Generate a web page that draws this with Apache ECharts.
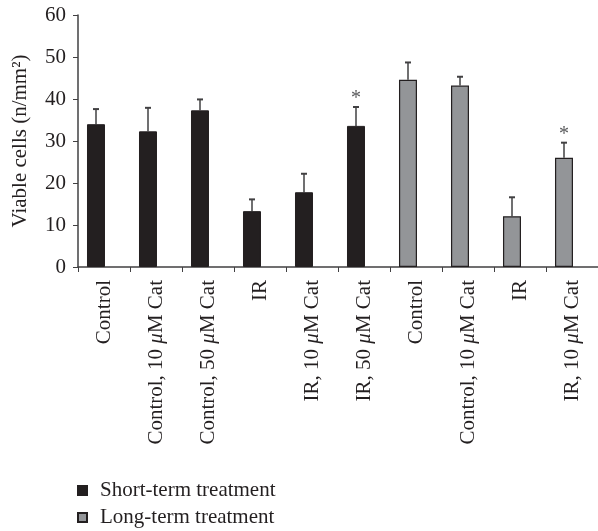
<!DOCTYPE html>
<html>
<head>
<meta charset="utf-8">
<script src="https://cdn.jsdelivr.net/npm/echarts@6/dist/echarts.min.js"></script>
<style>html,body{margin:0;padding:0;background:#fff}#c{width:598px;height:531px}</style>
</head>
<body>
<div id="c"></div>
<script>
var categories = ['Control', 'Control, 10 \u03bcM Cat', 'Control, 50 \u03bcM Cat', 'IR', 'IR, 10 \u03bcM Cat', 'IR, 50 \u03bcM Cat', 'Control', 'Control, 10 \u03bcM Cat', 'IR', 'IR, 10 \u03bcM Cat'];
var shortTerm = [34.0, 32.3, 37.3, 13.3, 17.8, 33.6, null, null, null, null];
var longTerm = [null, null, null, null, null, null, 44.6, 43.2, 12.1, 26.0];
var errorTop = [37.6, 37.9, 39.9, 16.1, 22.2, 38.1, 48.7, 45.3, 16.6, 29.6];
var significance = ['', '', '', '', '', '*', '', '', '', '*'];
var yTicks = [0, 10, 20, 30, 40, 50, 60];

var FONT = '"Liberation Serif", "DejaVu Serif", serif';
var AXIS = '#414042';
var TEXT = '#231f20';
var BAR_SHIFT = -8;

var chart = echarts.init(document.getElementById('c'), null, {renderer: 'canvas'});

var errData = categories.map(function (c, i) {
  var base = shortTerm[i] != null ? shortTerm[i] : longTerm[i];
  return [i, base, errorTop[i], significance[i]];
});

function richLabel(v) {
  var parts = v.split('\u03bc');
  if (parts.length === 1) return '{n|' + v + '}';
  return '{n|' + parts[0] + '}{i|\u03bc}{n|' + parts[1] + '}';
}

chart.setOption({
  animation: false,
  backgroundColor: '#fff',
  textStyle: {fontFamily: FONT},
  grid: {left: 78, top: 15, width: 524, bottom: 264, containLabel: false},
  legend: {
    data: ['Short-term treatment', 'Long-term treatment'],
    orient: 'vertical',
    left: 77,
    top: 480,
    padding: 0,
    icon: 'rect',
    itemWidth: 9,
    itemHeight: 9,
    itemGap: 6,
    textStyle: {fontFamily: FONT, fontSize: 21, lineHeight: 21, color: TEXT, padding: [0, 0, 0, 8]}
  },
  xAxis: {
    type: 'category',
    data: categories,
    boundaryGap: true,
    axisLine: {lineStyle: {color: AXIS, width: 1.5}},
    axisTick: {show: true, length: 5, lineStyle: {color: AXIS, width: 1}, alignWithLabel: false},
    axisLabel: {
      rotate: 90, interval: 0, margin: 13, color: TEXT,
      formatter: richLabel,
      rich: {
        n: {fontFamily: FONT, fontSize: 21, color: TEXT},
        i: {fontFamily: FONT, fontSize: 21, fontStyle: 'italic', color: TEXT}
      }
    },
    splitLine: {show: false}
  },
  yAxis: {
    type: 'value',
    min: yTicks[0],
    max: yTicks[yTicks.length - 1],
    interval: 10,
    name: 'Viable cells (n/mm\u00b2)',
    nameLocation: 'middle',
    nameGap: 47,
    nameRotate: 90,
    nameTextStyle: {fontFamily: FONT, fontSize: 21, color: TEXT},
    axisLine: {show: true, lineStyle: {color: AXIS, width: 1.5}},
    axisTick: {show: true, length: 5, lineStyle: {color: AXIS, width: 1}},
    axisLabel: {margin: 12, fontFamily: FONT, fontSize: 21, color: TEXT},
    splitLine: {show: false}
  },
  series: [
    {
      name: 'Short-term treatment',
      type: 'bar',
      stack: 'main',
      barWidth: 18,
      barGap: '-11%',
      data: shortTerm,
      itemStyle: {color: '#231f20', borderColor: '#231f20', borderWidth: 1}
    },
    {
      name: 'Long-term treatment',
      type: 'bar',
      stack: 'main',
      barWidth: 18,
      data: longTerm,
      itemStyle: {color: '#939598', borderColor: '#231f20', borderWidth: 1.2}
    },
    {
      name: 'spacer',
      type: 'bar',
      barWidth: 18,
      data: categories.map(function () { return null; }),
      silent: true
    },
    {
      name: 'errors',
      type: 'custom',
      silent: true,
      z: 1,
      data: errData,
      renderItem: function (params, api) {
        var i = api.value(0);
        var lo = api.coord([i, api.value(1)]);
        var hi = api.coord([i, api.value(2)]);
        var x = lo[0] + BAR_SHIFT;
        var half = 3;
        var children = [
          {type: 'line', shape: {x1: x, y1: lo[1], x2: x, y2: hi[1]}, style: {stroke: AXIS, lineWidth: 1.5}},
          {type: 'line', shape: {x1: x - half, y1: hi[1], x2: x + half, y2: hi[1]}, style: {stroke: AXIS, lineWidth: 2}}
        ];
        var sig = errData[params.dataIndex][3];
        if (sig) {
          children.push({type: 'text', style: {text: sig, x: x, y: hi[1] - 8, align: 'center', verticalAlign: 'middle', font: '20px ' + FONT, fill: '#58595b'}});
        }
        return {type: 'group', children: children};
      }
    }
  ]
});
</script>
</body>
</html>
